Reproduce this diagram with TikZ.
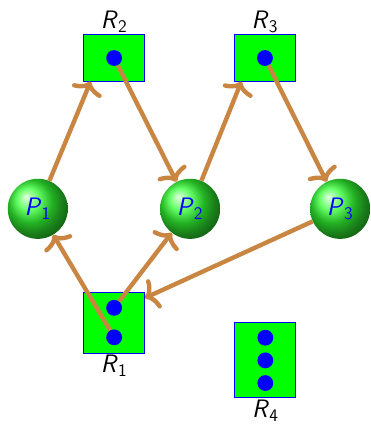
\documentclass[tikz,border=0pt]{standalone}
\usepackage{tikz}
\usetikzlibrary{arrows.meta, shadings, positioning}
\definecolor{rsGreen}{RGB}{0,255,0}
\definecolor{rsBlue}{RGB}{0,0,255}
\definecolor{rsArrow}{RGB}{200,134,66}
\tikzset{
  resbox/.style    = {draw=rsBlue, line width=0.75pt, fill=rsGreen,
                      minimum width=1.61cm, inner sep=0pt},
  instdot/.style   = {circle, fill=rsBlue, minimum size=0.42cm, inner sep=0pt},
  proc/.style      = {circle, ball color=green!80!white, minimum size=1.59cm,
                      inner sep=0pt, text=rsBlue, font=\fontsize{19}{22}\selectfont\sffamily},
  edge/.style      = {rsArrow, line width=3.3pt, -{To[length=9pt, width=24pt]}},
  lbl/.style       = {font=\fontsize{19}{22}\selectfont\sffamily, inner sep=1pt},
}
\newcommand{\ital}[2]{\textit{#1}\textsubscript{#2}}
\begin{document}
\begin{tikzpicture}
\useasboundingbox (0,0) rectangle (9.79,11.245);
% resources
\node[resbox, minimum height=1.22cm] (R2) at (3.02,9.71) {};
\node[resbox, minimum height=1.22cm] (R3) at (7.01,9.71) {};
\node[resbox, minimum height=1.59cm] (R1) at (3.02,2.70) {};
\node[resbox, minimum height=1.98cm] (R4) at (7.02,1.71) {};
\node[lbl, above=0pt of R2] (R2lbl) {\ital{R}{2}};
\node[lbl, above=0pt of R3] (R3lbl) {\ital{R}{3}};
\node[lbl, below=0pt of R1] (R1lbl) {\ital{R}{1}};
\node[lbl, below=0pt of R4] (R4lbl) {\ital{R}{4}};
% instances
\node[instdot] (R2d) at (R2) {};
\node[instdot] (R3d) at (R3) {};
\node[instdot] (R1a) at ([yshift=0.4cm]R1.center) {};
\node[instdot] (R1b) at ([yshift=-0.38cm]R1.center) {};
\node[instdot] (R4a) at ([yshift=0.6cm]R4.center) {};
\node[instdot] (R4b) at (R4) {};
\node[instdot] (R4c) at ([yshift=-0.6cm]R4.center) {};
% processes
\node[proc] (P1) at (1.00,5.72) {\ital{P}{1}};
\node[proc] (P2) at (5.03,5.72) {\ital{P}{2}};
\node[proc] (P3) at (9.00,5.72) {\ital{P}{3}};
% requests and assignments
\draw[edge] (P1) -- (R2.-135);
\draw[edge] (R2d) -- (P2);
\draw[edge] (P2) -- (R3.-135);
\draw[edge] (R3d) -- (P3);
\draw[edge] (R1b) -- (P1);
\draw[edge] (R1a) -- (P2);
\draw[edge] (P3) -- (R1.39);
\end{tikzpicture}
\end{document}
